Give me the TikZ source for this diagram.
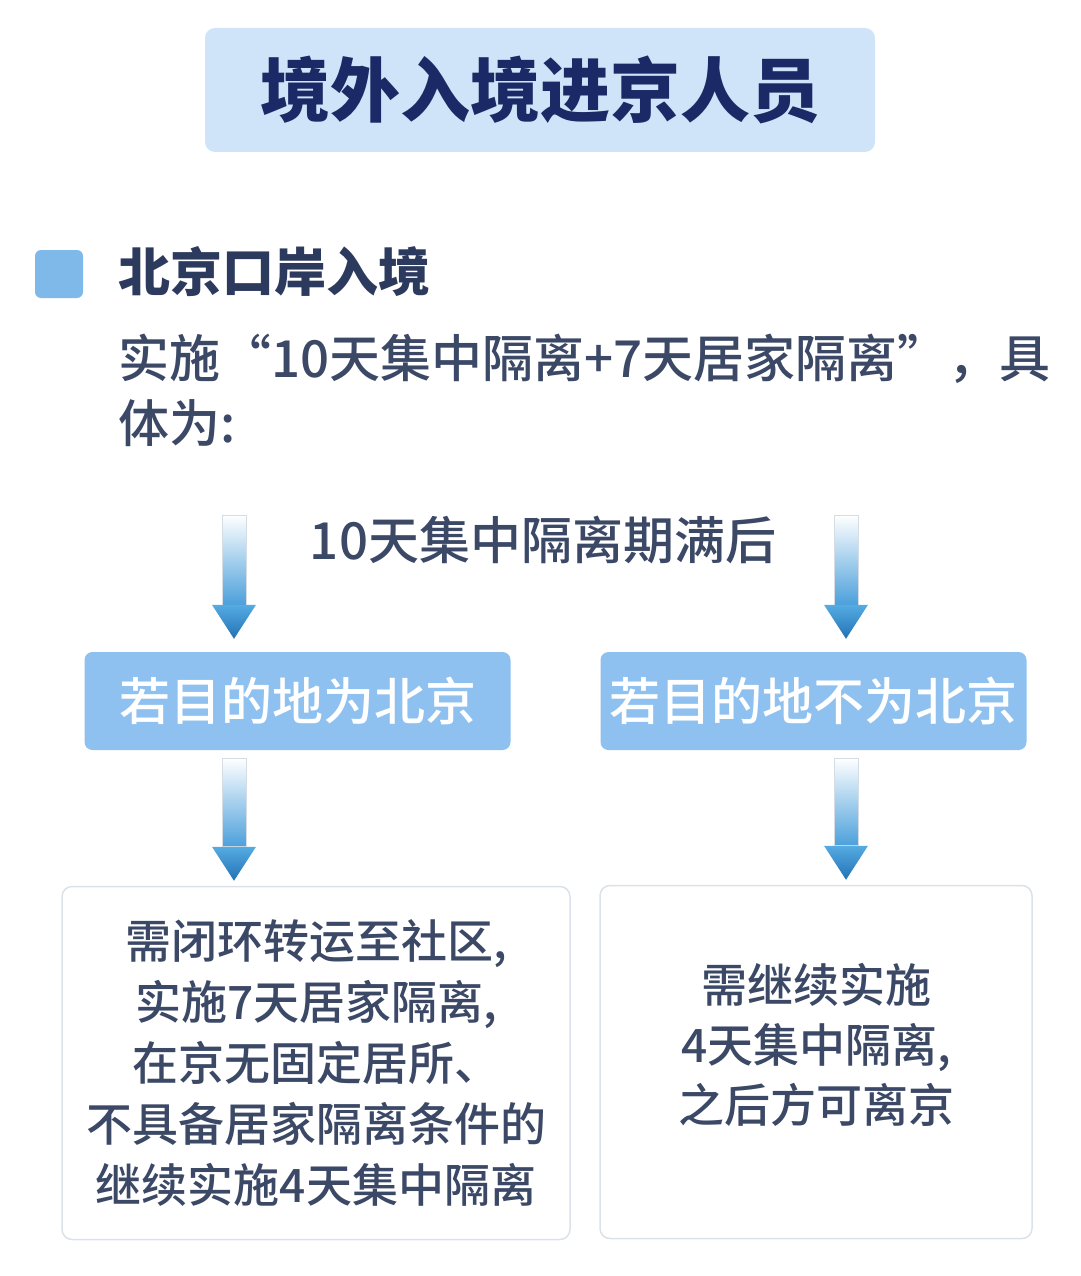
\documentclass[tikz,border=0pt]{standalone}
\usepackage{fontspec}
\setmainfont{Noto Sans CJK SC}
\newfontfamily\cjkmed{Noto Sans CJK SC Medium}
\usetikzlibrary{calc,positioning}
\definecolor{titlefill}{HTML}{CFE4F8}
\definecolor{titletext}{HTML}{1B2A66}
\definecolor{bulletblue}{HTML}{7FB9EA}
\definecolor{headcol}{HTML}{2C3A5E}
\definecolor{bodycol}{HTML}{3B4866}
\definecolor{choicefill}{HTML}{8EC1EF}
\definecolor{boxline}{HTML}{DCE2EA}
\definecolor{shaftblue}{HTML}{4BA0DB}
\definecolor{shaftline}{HTML}{D5DCE4}
\definecolor{headlight}{HTML}{55ABE2}
\definecolor{headdark}{HTML}{2272B5}
\newcommand{\flowarrow}[2]{%
  \shade[top color=white, bottom color=shaftblue, draw=shaftline, line width=.6pt]
    ($(#1)+(-12,0)$) rectangle ($(#2)+(12,-34)$);
  \shade[top color=headlight, bottom color=headdark]
    ($(#2)+(-22,-34)$) -- ($(#2)+(22,-34)$) -- (#2) -- cycle;
}
\begin{document}
\begin{tikzpicture}[x=1pt,y=-1pt,
  titlebox/.style={fill=titlefill, rounded corners=10pt, minimum width=670pt, minimum height=124pt, inner sep=0pt, text=titletext, font=\fontsize{70}{80}\selectfont\bfseries},
  bulletsq/.style={fill=bulletblue, rounded corners=6pt, minimum size=48pt, inner sep=0pt},
  headtext/.style={inner sep=0pt, text=headcol, font=\fontsize{52}{62}\selectfont\bfseries},
  bodytext/.style={inner sep=0pt, text=bodycol, align=left, font=\fontsize{51}{65}\selectfont\cjkmed},
  choicebox/.style={fill=choicefill, rounded corners=8pt, minimum height=98pt, minimum width=426pt, inner sep=0pt, text=white, font=\fontsize{51}{60}\selectfont\cjkmed},
  resultbox/.style={draw=boxline, line width=1.5pt, fill=white, rounded corners=10pt, minimum height=353pt, inner sep=0pt, text=bodycol, align=center, font=\fontsize{46}{61}\selectfont\cjkmed},
  resulttext/.style={inner sep=0pt, text=bodycol, align=center, font=\fontsize{46}{60}\selectfont\cjkmed}]
\useasboundingbox (0,0) rectangle (1080,1276);
\node[titlebox] (title) at (540,90) {境外入境进京人员};
\node[bulletsq] (bullet) at (59,274) {};
\node[headtext, anchor=west] (port) at (118,272) {北京口岸入境};
\node[bodytext, anchor=north west] (rule) at (118,334) {实施“10天集中隔离+7天居家隔离”，具\\体为:};
\node[bodytext] (after) at (543,540) {10天集中隔离期满后};
\node[choicebox] (bj) at (297.5,701) {若目的地为北京};
\node[choicebox] (nbj) at (813.5,701) {若目的地不为北京};
\node[resultbox, minimum width=508pt] (lres) at (316,1063) {需闭环转运至社区,\\实施7天居家隔离,\\在京无固定居所、\\不具备居家隔离条件的\\继续实施4天集中隔离};
\node[resultbox, minimum width=432pt] (rres) at (816,1062) {};
\node[resulttext] (rtxt) at ([yshift=17pt]rres.center) {需继续实施\\4天集中隔离,\\之后方可离京};
% arrows
\coordinate (s1) at (234,515);
\coordinate (s2) at (846,515);
\coordinate (t1) at ([yshift=13pt]s1 |- bj.north);
\coordinate (t2) at ([yshift=13pt]s2 |- nbj.north);
\coordinate (s3) at ([yshift=-8pt]s1 |- bj.south);
\coordinate (s4) at ([yshift=-8pt]s2 |- nbj.south);
\coordinate (t3) at ([yshift=5pt]s1 |- lres.north);
\coordinate (t4) at ([yshift=5pt]s2 |- rres.north);
\flowarrow{s1}{t1}
\flowarrow{s2}{t2}
\flowarrow{s3}{t3}
\flowarrow{s4}{t4}
\end{tikzpicture}
\end{document}
